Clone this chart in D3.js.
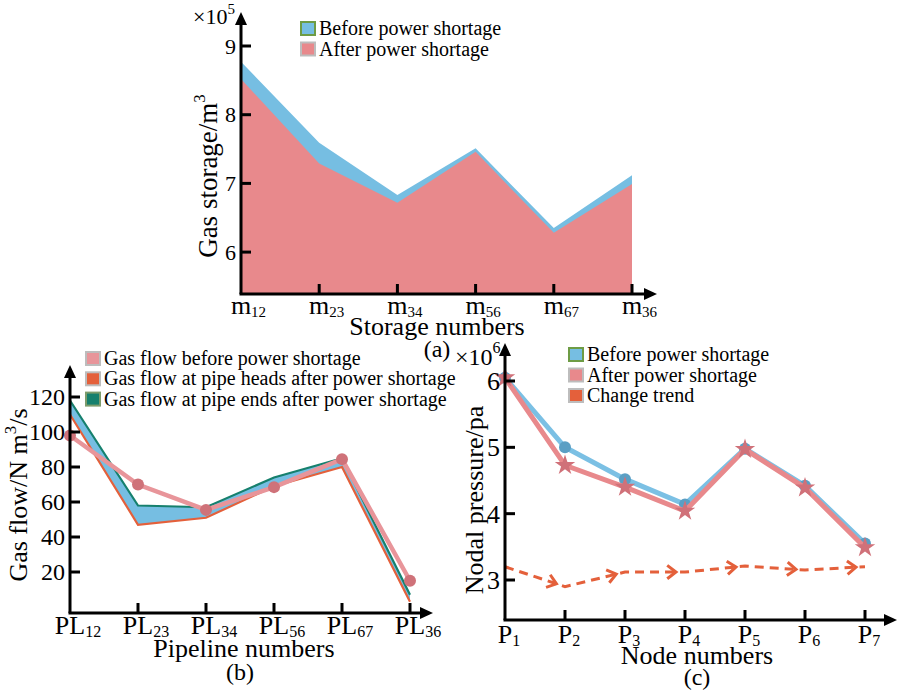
<!DOCTYPE html>
<html><head><meta charset="utf-8">
<script src="https://cdn.jsdelivr.net/npm/d3@7"></script>
<style>body{margin:0;background:#fff}svg{display:block;font-family:"Liberation Serif","Times New Roman",serif}</style>
</head><body><svg id="c" width="898" height="694"></svg>
<script>
// ---- data ----
const storageLabels = ["m12","m23","m34","m56","m67","m36"];
const storageBefore = [8.77, 7.59, 6.83, 7.51, 6.35, 7.12];
const storageAfter  = [8.52, 7.29, 6.72, 7.46, 6.28, 6.99];
const storageTicks = [6,7,8,9];

const pipeLabels = ["PL12","PL23","PL34","PL56","PL67","PL36"];
const flowBefore = [98, 70, 55.5, 68.5, 84.5, 15];
const flowHeads  = [110, 47, 51, 69, 80, 3];
const flowEnds   = [118, 58, 57, 74, 85, 7];
const flowTicks = [20,40,60,80,100,120];

const nodeLabels = ["P1","P2","P3","P4","P5","P6","P7"];
const pressBefore = [6.05, 5.0, 4.52, 4.14, 4.98, 4.42, 3.55];
const pressAfter  = [6.05, 4.73, 4.40, 4.04, 4.97, 4.39, 3.49];
const pressTrend  = [3.20, 2.90, 3.12, 3.12, 3.21, 3.15, 3.20];
const pressTicks = [3,4,5,6];

// ---- helpers ----
const svg = d3.select("#c");
const BLUE="#76bee2", PINK="#e8898c", ORANGE="#e4603b", TEAL="#16806d";

function axesFrame(g, x0, y0, xEnd, yEnd){
  g.append("line").attr("x1",x0).attr("y1",y0).attr("x2",x0).attr("y2",yEnd+10).attr("stroke","#000").attr("stroke-width",3);
  g.append("line").attr("x1",x0-1.5).attr("y1",y0).attr("x2",xEnd-10).attr("y2",y0).attr("stroke","#000").attr("stroke-width",3);
  g.append("path").attr("d",`M${x0-6},${yEnd+13}L${x0},${yEnd}L${x0+6},${yEnd+13}Z`).attr("fill","#000");
  g.append("path").attr("d",`M${xEnd-13},${y0-6}L${xEnd},${y0}L${xEnd-13},${y0+6}Z`).attr("fill","#000");
}
function yTicks(g, y, ticks, x0, size){
  ticks.forEach(t=>{
    g.append("line").attr("x1",x0).attr("x2",x0+10).attr("y1",y(t)).attr("y2",y(t)).attr("stroke","#000").attr("stroke-width",3);
    g.append("text").attr("x",x0-5).attr("y",y(t)).attr("dy","0.35em").attr("text-anchor","end").attr("font-size",size).text(t);
  });
}
function xTicks(g, x, labels, y0, baseline, size, subSize){
  labels.forEach((l,i)=>{
    const px = x(l);
    if(i>0) g.append("line").attr("x1",px).attr("x2",px).attr("y1",y0).attr("y2",y0-10).attr("stroke","#000").attr("stroke-width",3);
    const m = l.match(/^([A-Za-z]+)(\d+)$/);
    const t = g.append("text").attr("y",baseline).attr("font-size",size);
    const main = t.append("tspan").text(m[1]);
    t.append("tspan").attr("font-size",subSize).attr("dy",3).text(m[2]);
    const w = main.node().getComputedTextLength();
    t.attr("x",px - w/2); main.attr("x",px-w/2);
  });
}
function legend(g, items, x, y, dy){
  items.forEach((it,i)=>{
    g.append("rect").attr("x",x).attr("y",y+i*dy).attr("width",14).attr("height",13)
      .attr("fill",it.fill).attr("stroke",it.stroke).attr("stroke-width",2);
    g.append("text").attr("x",x+18).attr("y",y+i*dy+13).attr("font-size",20).text(it.label);
  });
}

// ---- panel (a) ----
{
  const g = svg.append("g");
  const x = d3.scalePoint().domain(storageLabels).range([241,632]);
  const y = d3.scaleLinear().domain([5.39,9]).range([294,46]);
  const areaB = d3.area().x((d,i)=>x(storageLabels[i])).y0(y(5.39)).y1(d=>y(d));
  g.append("path").datum(storageBefore).attr("d",areaB).attr("fill",BLUE);
  g.append("path").datum(storageAfter).attr("d",areaB).attr("fill",PINK);
  axesFrame(g,241,294,657,12);
  yTicks(g,y,storageTicks,241,22);
  xTicks(g,x,storageLabels,294,314,26,15);
  g.append("text").attr("x",193).attr("y",24).attr("font-size",22).text("×10")
    .append("tspan").attr("font-size",15).attr("dy",-10).text("5");
  g.append("text").attr("transform","translate(217,176) rotate(-90)").attr("text-anchor","middle").attr("font-size",27)
    .text("Gas storage/m").append("tspan").attr("font-size",17).attr("dy",-12).text("3");
  g.append("text").attr("x",437).attr("y",335).attr("text-anchor","middle").attr("font-size",26).text("Storage numbers");
  g.append("text").attr("x",437).attr("y",357).attr("text-anchor","middle").attr("font-size",24).text("(a)");
  legend(g,[{label:"Before power shortage",fill:BLUE,stroke:"#6e9c45"},{label:"After power shortage",fill:PINK,stroke:"#bdbdbd"}],301,22,20.5);
}

// ---- panel (b) ----
{
  const g = svg.append("g");
  const x = d3.scalePoint().domain(pipeLabels).range([70,410]);
  const y = d3.scaleLinear().domain([0,120]).range([607,397]);
  const band = d3.area().x((d,i)=>x(pipeLabels[i])).y0((d,i)=>y(flowHeads[i])).y1(d=>y(d));
  g.append("path").datum(flowEnds).attr("d",band).attr("fill",BLUE);
  const line = d3.line().x((d,i)=>x(pipeLabels[i])).y(d=>y(d));
  g.append("path").datum(flowEnds).attr("d",line).attr("fill","none").attr("stroke",TEAL).attr("stroke-width",2.2);
  g.append("path").datum(flowHeads).attr("d",line).attr("fill","none").attr("stroke",ORANGE).attr("stroke-width",2.2);
  g.append("path").datum(flowBefore).attr("d",line).attr("fill","none").attr("stroke","#e8959a").attr("stroke-width",4.5);
  g.selectAll("circle.b").data(flowBefore).join("circle").attr("cx",(d,i)=>x(pipeLabels[i])).attr("cy",d=>y(d)).attr("r",6).attr("fill","#cf7279");
  axesFrame(g,70,613,433,365);
  yTicks(g,y,flowTicks,70,24);
  xTicks(g,x,pipeLabels,613,634,26,16);
  g.append("text").attr("transform","translate(27,495) rotate(-90)").attr("text-anchor","middle").attr("font-size",26)
    .text("Gas flow/N m").append("tspan").attr("font-size",17).attr("dy",-11).text("3")
    .select(function(){return this.parentNode;}).append("tspan").attr("dy",11).text("/s");
  g.append("text").attr("x",244).attr("y",657).attr("text-anchor","middle").attr("font-size",26).text("Pipeline numbers");
  g.append("text").attr("x",240).attr("y",680).attr("text-anchor","middle").attr("font-size",24).text("(b)");
  legend(g,[{label:"Gas flow before power shortage",fill:"#e8959a",stroke:"#bdbdbd"},
            {label:"Gas flow at pipe heads after power shortage",fill:ORANGE,stroke:"#bdbdbd"},
            {label:"Gas flow at pipe ends after power shortage",fill:TEAL,stroke:"#7d9c6c"}],86,352,20.3);
}

// ---- panel (c) ----
{
  const g = svg.append("g");
  const x = d3.scalePoint().domain(nodeLabels).range([505,865]);
  const y = d3.scaleLinear().domain([3,6]).range([580,381]);
  const line = d3.line().x((d,i)=>x(nodeLabels[i])).y(d=>y(d));
  g.append("path").datum(pressTrend).attr("d",line).attr("fill","none").attr("stroke",ORANGE).attr("stroke-width",3).attr("stroke-dasharray","9,6");
  for(let i=1;i<pressTrend.length;i++){
    const x1=x(nodeLabels[i-1]), y1=y(pressTrend[i-1]), x2=x(nodeLabels[i]), y2=y(pressTrend[i]);
    const a=Math.atan2(y2-y1,x2-x1), L=Math.hypot(x2-x1,y2-y1);
    const tx=x1+(L-9)*Math.cos(a), ty=y1+(L-9)*Math.sin(a);
    const arm=11, sp=0.65;
    g.append("path").attr("d",`M${tx-arm*Math.cos(a-sp)},${ty-arm*Math.sin(a-sp)}L${tx},${ty}L${tx-arm*Math.cos(a+sp)},${ty-arm*Math.sin(a+sp)}`)
      .attr("fill","none").attr("stroke",ORANGE).attr("stroke-width",3);
  }
  g.append("path").datum(pressBefore).attr("d",line).attr("fill","none").attr("stroke","#7bc0e4").attr("stroke-width",5);
  g.selectAll("circle.p").data(pressBefore).join("circle").attr("cx",(d,i)=>x(nodeLabels[i])).attr("cy",d=>y(d)).attr("r",6).attr("fill","#5b9fc4");
  g.append("path").datum(pressAfter).attr("d",line).attr("fill","none").attr("stroke",PINK).attr("stroke-width",5);
  const star=d3.symbol().type(d3.symbolStar).size(130);
  g.selectAll("path.s").data(pressAfter).join("path").attr("d",star)
    .attr("transform",(d,i)=>`translate(${x(nodeLabels[i])},${y(d)})`).attr("fill","#d07179");
  axesFrame(g,505,620,897,343);
  yTicks(g,y,pressTicks,505,26);
  xTicks(g,x,nodeLabels,620,643,26,16);
  g.append("text").attr("x",455).attr("y",365).attr("font-size",24).text("×10")
    .append("tspan").attr("font-size",16).attr("dy",-12).text("6");
  g.append("text").attr("transform","translate(483,500) rotate(-90)").attr("text-anchor","middle").attr("font-size",26).text("Nodal pressure/pa");
  g.append("text").attr("x",697).attr("y",664).attr("text-anchor","middle").attr("font-size",26).text("Node numbers");
  g.append("text").attr("x",697).attr("y",685).attr("text-anchor","middle").attr("font-size",24).text("(c)");
  legend(g,[{label:"Before power shortage",fill:BLUE,stroke:"#6e9c45"},{label:"After power shortage",fill:PINK,stroke:"#bdbdbd"},{label:"Change trend",fill:ORANGE,stroke:"#bdbdbd"}],569,348,20.5);
}
</script></body></html>
